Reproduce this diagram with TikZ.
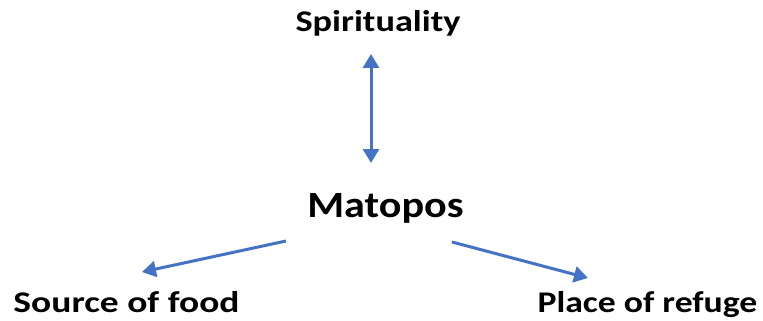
\documentclass[tikz,border=0pt]{standalone}
\usepackage{fontspec}
\setmainfont{Carlito}
\usetikzlibrary{arrows.meta}
\definecolor{linkblue}{HTML}{4472C4}
% wide bold lettering: text stretched horizontally by #1
\newcommand{\widetext}[2]{\scalebox{#1}[1]{#2}}
\begin{document}
\begin{tikzpicture}[x=1pt,y=-1pt,
  label/.style={anchor=base,inner sep=0pt,font=\bfseries\fontsize{30}{36}\selectfont},
  hub/.style={anchor=base,inner sep=0pt,font=\bfseries\fontsize{37}{44}\selectfont},
  tip/.tip={Triangle[length=14pt,width=16pt]},
  link/.style={draw=linkblue,line width=3pt,-tip}]
\useasboundingbox (0,0) rectangle (763,321);
% labels
\node[label] (spirit) at (378,32) {\widetext{1.21}{Spirituality}};
\node[hub]   (mat)    at (385.5,217) {\widetext{1.14}{Matopos}};
\node[label] (food)   at (126.5,312) {\widetext{1.25}{Source of food}};
\node[label] (refuge) at (647.5,312) {\widetext{1.19}{Place of refuge}};
% arrow end points
\coordinate (vtop) at (371,54);
\coordinate (vbot) at (371,163);
\coordinate (lfrom) at (286,241);
\coordinate (lto) at (142,272);
\coordinate (rfrom) at (452,242);
\coordinate (rto) at (588,278);
% connectors
\draw[link,tip-tip] (vtop) -- (vbot);
\draw[link] (lfrom) -- (lto);
\draw[link] (rfrom) -- (rto);
\end{tikzpicture}
\end{document}
